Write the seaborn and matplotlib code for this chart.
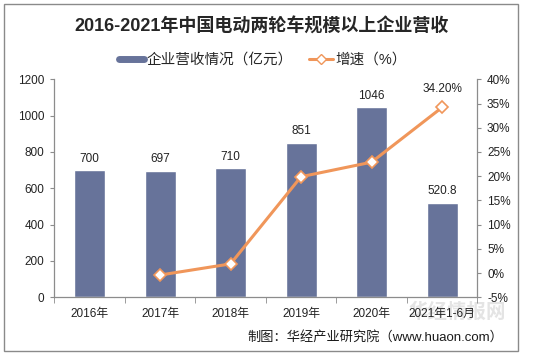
import numpy as np
import pandas as pd
import matplotlib.pyplot as plt
import seaborn as sns
from matplotlib.lines import Line2D
from matplotlib.patches import Rectangle

# data
years = ['2016年', '2017年', '2018年', '2019年', '2020年', '2021年1-6月']
revenue = [700, 697, 710, 851, 1046, 520.8]
growth = [np.nan, -0.4, 1.9, 19.9, 22.9, 34.2]
rev_labels = ['700', '697', '710', '851', '1046', '520.8']

bar_color = '#67739A'
line_color = '#F0965A'
grey = '#8C8C8C'

sns.set_style('white')
plt.rcParams['font.family'] = ['Liberation Sans', 'Noto Sans CJK SC']

df = pd.DataFrame({'year': years, 'revenue': revenue, 'growth': growth})
df['pos'] = np.arange(len(df))

fig = plt.figure(figsize=(5.37, 3.55), dpi=100)
ax = fig.add_axes([0.1011, 0.1625, 0.7877, 0.614])

sns.barplot(data=df, x='year', y='revenue', color=bar_color, width=0.44,
            saturation=1, ax=ax)
ax.bar_label(ax.containers[0], labels=rev_labels, padding=4, fontsize=8.5,
             color='#222222')
ax.set_ylim(0, 1200)
ax.set_yticks(range(0, 1201, 200))
ax.set_xlim(-0.5, 5.5)
ax.set_xlabel('')
ax.set_ylabel('')

ax2 = ax.twinx()
sns.lineplot(data=df, x='pos', y='growth', color=line_color, linewidth=2.2,
             marker='D', markersize=6, markerfacecolor='white',
             markeredgecolor=line_color, markeredgewidth=1.2, ax=ax2)
ax2.set_ylim(-5, 40)
ax2.set_yticks(range(-5, 41, 5))
ax2.set_yticklabels([f'{v}%' for v in range(-5, 41, 5)])
ax2.set_xlim(-0.5, 5.5)
ax2.set_xlabel('')
ax2.set_ylabel('')
ax2.annotate(f'{growth[-1]:.2f}%', (df['pos'].iloc[-1], growth[-1]),
             xytext=(0, 13), textcoords='offset points', ha='center',
             va='center', fontsize=8.5, color='#222222')

for a in (ax, ax2):
    for side in ('top', 'left', 'right', 'bottom'):
        a.spines[side].set_visible(False)
ax.spines['left'].set_visible(True)
ax.spines['bottom'].set_visible(True)
ax2.spines['right'].set_visible(True)
for sp in (ax.spines['left'], ax.spines['bottom'], ax2.spines['right']):
    sp.set_color(grey)
    sp.set_linewidth(0.9)

ax.tick_params(axis='y', direction='out', length=3, color=grey, labelsize=8.5,
               labelcolor='#222222', left=True, pad=4)
ax2.tick_params(axis='y', direction='out', length=3, color=grey, labelsize=8.5,
                labelcolor='#222222', right=True, pad=4)
ax.tick_params(axis='x', which='major', length=0, labelsize=8.5,
               labelcolor='#222222', pad=8)
ax.set_xticks(np.arange(-0.5, 6, 1), minor=True)
ax.tick_params(axis='x', which='minor', direction='out', length=4,
               color=grey, bottom=True)

fig.text(0.487, 0.925, '2016-2021年中国电动两轮车规模以上企业营收',
         ha='center', va='center', fontsize=13, fontweight='bold',
         color='#262626')

handles = [Line2D([], [], color=bar_color, linewidth=5),
           Line2D([], [], color=line_color, linewidth=2.2, marker='D',
                  markersize=5.5, markerfacecolor='white',
                  markeredgecolor=line_color)]
fig.legend(handles, ['企业营收情况（亿元）', '增速（%）'], loc='center',
           bbox_to_anchor=(0.49, 0.831), ncol=2, frameon=False,
           fontsize=10.5, handlelength=1.7, handletextpad=0.15,
           columnspacing=1.1)

# watermark (behind the axes text) + source
fig.text(0.852, 0.12, '华经情报网', ha='center', va='center', fontsize=14,
         fontweight='bold', color='#e4e4e4', zorder=-1)
fig.text(0.937, 0.05, '制图：华经产业研究院（www.huaon.com）', ha='right',
         va='center', fontsize=9.5, color='#1a1a1a')

fig.patches.append(Rectangle((4 / 537, 4 / 355), 514 / 537, 347 / 355,
                             transform=fig.transFigure, fill=False,
                             edgecolor='#8a8a8a', linewidth=1))

fig.savefig('out.png', dpi=100)
